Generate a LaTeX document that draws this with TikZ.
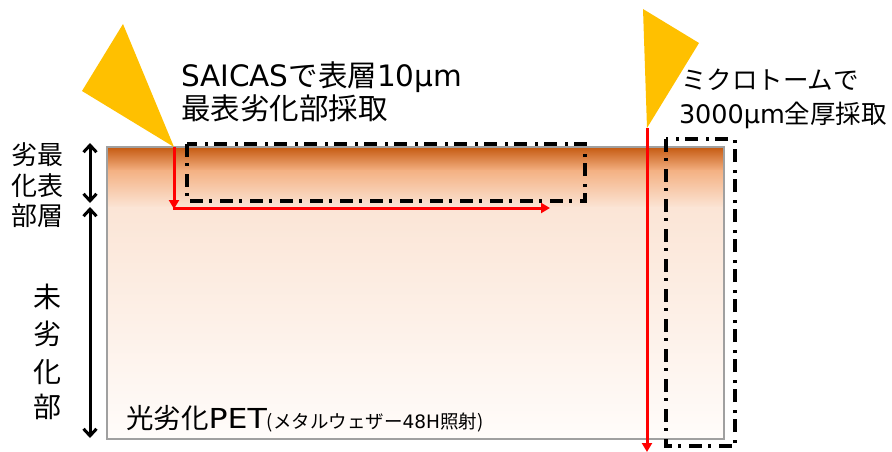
\documentclass[tikz,border=0pt]{standalone}
\usepackage{fontspec}
\newfontfamily\jp{Noto Sans CJK JP}
\newfontfamily\lat{DejaVu Sans}
\newfontfamily\latw[FakeStretch=1.15]{DejaVu Sans}
\usetikzlibrary{arrows.meta}
\definecolor{dk}{HTML}{C55A11}
\definecolor{md}{HTML}{F4B183}
\definecolor{lt}{HTML}{FBE5D6}
\definecolor{wh}{HTML}{FFFCFA}
\definecolor{blade}{HTML}{FFC000}
\definecolor{bord}{HTML}{A0A0A0}
\tikzset{
  lbl/.style={inner sep=0pt, outer sep=0pt},
  dashdot/.style={line width=3.2pt, dash pattern=on 13pt off 6pt on 3pt off 8pt},
  redline/.style={red, line width=3pt, -{Triangle[length=9pt,width=10pt]}},
  dimarrow/.style={line width=3pt, {Straight Barb[length=7pt,width=13pt]}-{Straight Barb[length=7pt,width=13pt]}},
  blade/.style={fill=blade, draw=none},
}
\begin{document}
\begin{tikzpicture}[x=1pt,y=-1pt]
\useasboundingbox (0,0) rectangle (892,452);
% specimen gradient
\fill[top color=dk, bottom color=md, shading=axis] (107,147) rectangle (724,171);
\fill[top color=md, bottom color=lt, shading=axis] (107,170.5) rectangle (724,208);
\fill[top color=lt, bottom color=wh, shading=axis] (107,207.5) rectangle (724,439);
\draw[bord, line width=1.5pt] (107,147) rectangle (724,439);
% coordinates
\coordinate (sT) at (174,147);
\coordinate (sB) at (174,209);
\coordinate (sE) at (550,208);
\coordinate (mT) at (647,128);
\coordinate (mB) at (647,452);
% blades
\fill[blade] (123,24) -- (82,91) -- (sT) -- cycle;
\fill[blade] (643,9) -- (699,43) -- (mT) -- cycle;
% sampling boxes
\draw[dashdot] (187,144) rectangle (585,201);
\draw[dashdot] (666,139) rectangle (735,446);
% red cut paths
\draw[redline] (sT) -- (sB);
\draw[redline] (172.5,208) -- (sE);
\draw[redline] (mT) -- (mB);
% dimension arrows
\coordinate (a1) at (90,143);
\coordinate (a2) at (90,203);
\coordinate (a3) at (90,207);
\coordinate (a4) at (90,438);
\draw[dimarrow] (a1) -- (a2);
\draw[dimarrow] (a3) -- (a4);
% texts
\node[lbl, anchor=base west, font=\fontsize{29.5}{30}\jp] (t1) at (181,87) {{\lat SAICAS}で表層{\lat 10μm}};
\node[lbl, anchor=base west, font=\fontsize{29.5}{30}\jp] (t2) at (181,119) {最表劣化部採取};
\node[lbl, anchor=base west, font=\fontsize{25.5}{26}\jp] (t3) at (681,90) {ミクロトームで};
\node[lbl, anchor=base west, font=\fontsize{25.5}{26}\jp] (t4) at (679,124) {{\lat 3000μm}全厚採取};
\node[lbl, anchor=base west, font=\fontsize{26}{26}\jp] (l1) at (12,164) {劣最};
\node[lbl, anchor=base west, font=\fontsize{26}{26}\jp] (l2) at (12,195) {化表};
\node[lbl, anchor=base west, font=\fontsize{26}{26}\jp] (l3) at (12,225) {部層};
\node[lbl, font=\fontsize{28}{28}\jp] (u1) at (47,297) {未};
\node[lbl, font=\fontsize{28}{28}\jp] (u2) at (47,334) {劣};
\node[lbl, font=\fontsize{28}{28}\jp] (u3) at (47,372) {化};
\node[lbl, font=\fontsize{28}{28}\jp] (u4) at (47,407) {部};
\node[lbl, anchor=base west, font=\fontsize{27.5}{28}\jp] (p1) at (126,428) {光劣化{\latw PET}{\fontsize{18.5}{19}\selectfont (メタルウェザー{\lat 48H}照射)}};
\end{tikzpicture}
\end{document}
